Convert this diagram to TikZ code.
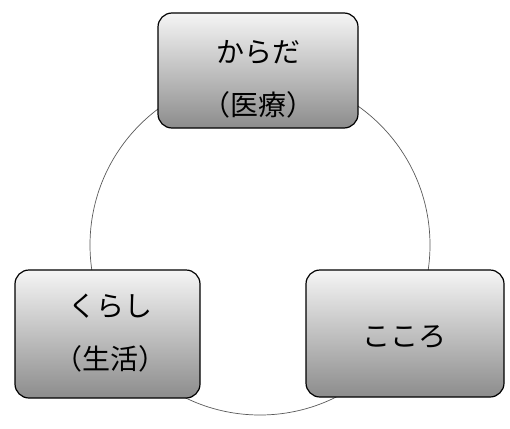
\documentclass[tikz,border=0pt]{standalone}
\usepackage{fontspec}
\newfontfamily\jp{Noto Sans CJK JP}
\begin{document}
\begin{tikzpicture}[x=1pt,y=-1pt,
  box/.style={draw=black, line width=1.2pt, rounded corners=14pt,
    top color=black!4, middle color=black!20, bottom color=black!45,
    inner sep=0pt},
  lbl/.style={align=center, inner sep=0pt, font=\jp\fontsize{28}{53}\selectfont},
  ring/.style={draw=black!65, line width=0.7pt}]
\useasboundingbox (0,0) rectangle (510,428);
\draw[ring] (260,245) circle[radius=170];
\node[box, minimum width=200pt, minimum height=115pt] (karada) at (258,70.5) {};
\node[box, minimum width=185pt, minimum height=128pt] (kurashi) at (107.5,334) {};
\node[box, minimum width=198pt, minimum height=127pt] (kokoro) at (405,333.5) {};
\node[lbl] (karadaT) at (258,79) {からだ\\（医療）};
\node[lbl] (kurashiT) at (110,333) {くらし\\（生活）};
\node[lbl] (kokoroT) at (404,337) {こころ};
\end{tikzpicture}
\end{document}
